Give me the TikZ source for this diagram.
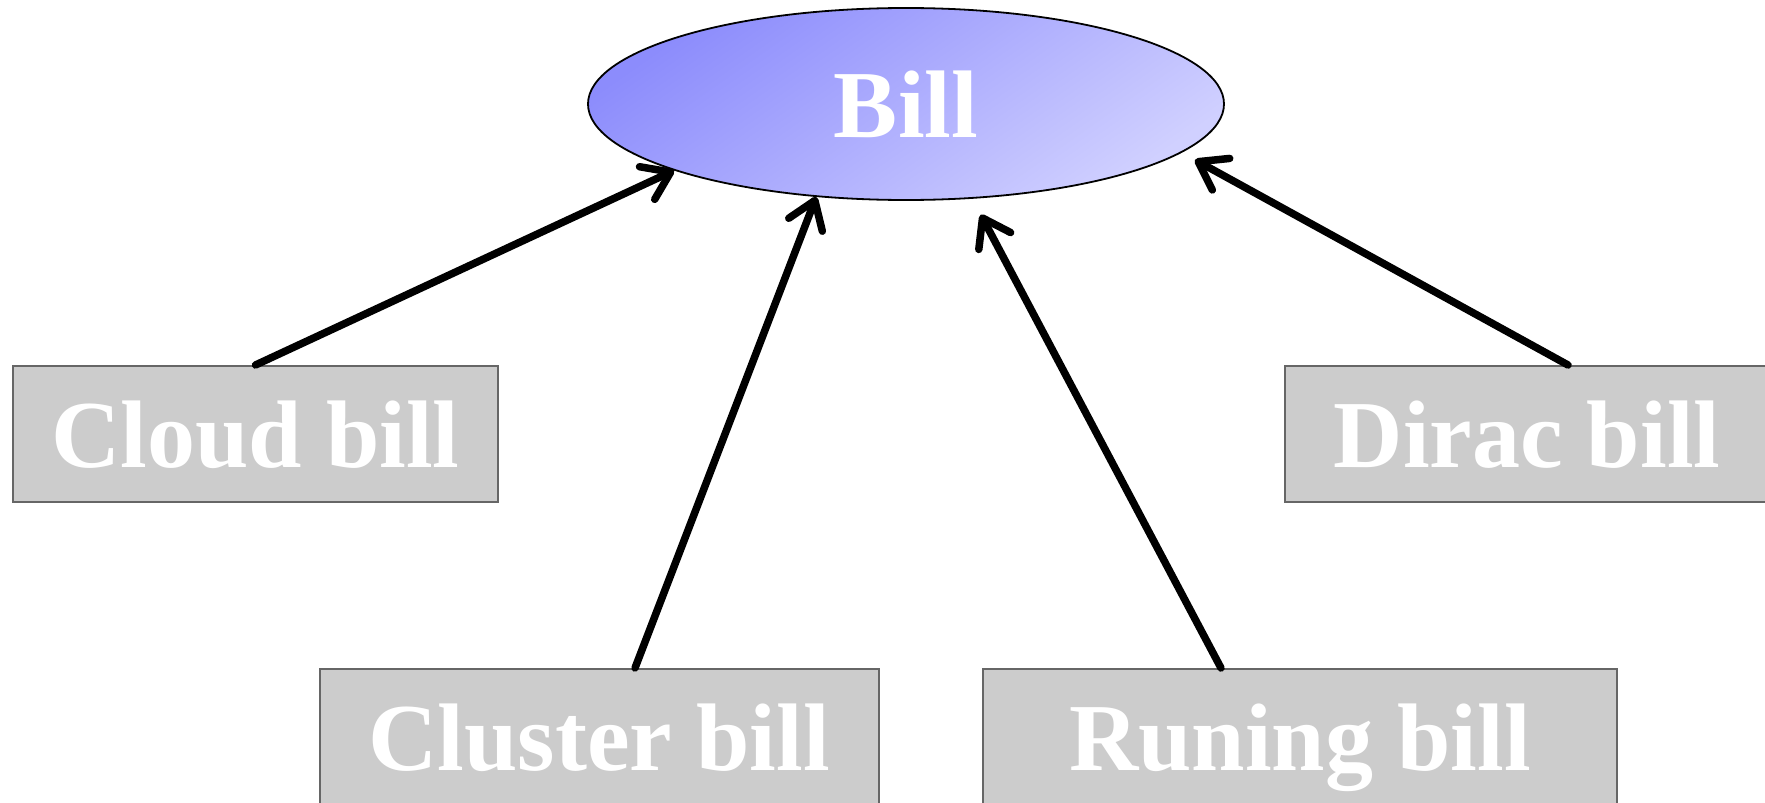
\documentclass[tikz,border=0pt]{standalone}
\usepackage{fontspec}
\setmainfont{Liberation Serif}
\usetikzlibrary{arrows.meta,shapes.geometric}
\definecolor{boxfill}{HTML}{CCCCCC}
\definecolor{boxline}{HTML}{666666}
\definecolor{billA}{HTML}{8C8CFC}
\definecolor{billB}{HTML}{D0D0FF}
\tikzset{
  billbox/.style={draw=boxline, line width=2pt, fill=boxfill, rectangle,
    minimum height=136pt, inner sep=0pt, text=white,
    text height=67pt, text depth=0pt,
    font=\fontsize{96}{100}\selectfont\bfseries},
  billell/.style={ellipse, draw=black, line width=1.8pt, minimum width=636pt,
    minimum height=192pt, inner sep=0pt, text=white,
    text height=67pt, text depth=0pt,
    top color=billA, bottom color=billB, shading angle=35,
    font=\fontsize{96}{100}\selectfont\bfseries},
  arr/.style={line width=7.5pt, line cap=round,
    -{Straight Barb[length=26pt, width=36pt, line cap=round, line join=round]}}
}
\begin{document}
\begin{tikzpicture}[x=1pt,y=-1pt]
\useasboundingbox (0,0) rectangle (1765,803);
\node[billell] (bill) at (906,104) {Bill};
\node[billbox, minimum width=485pt] (cloud) at (255.5,434) {Cloud bill};
\node[billbox, minimum width=485pt] (dirac) at (1527,434) {Dirac bill};
\node[billbox, minimum width=559pt] (cluster) at (599,737) {Cluster bill};
\node[billbox, minimum width=634pt] (runing) at (1300,737) {Runing bill};
\draw[arr] (cloud.north) -- (bill.196);
\draw[arr] ([xshift=36pt]cluster.north) -- (bill.226);
\draw[arr, shorten >=18pt] ([xshift=-79pt]runing.north) -- (bill.305);
\draw[arr, shorten >=15pt] ([xshift=41pt]dirac.north) -- (bill.350);
\end{tikzpicture}
\end{document}
